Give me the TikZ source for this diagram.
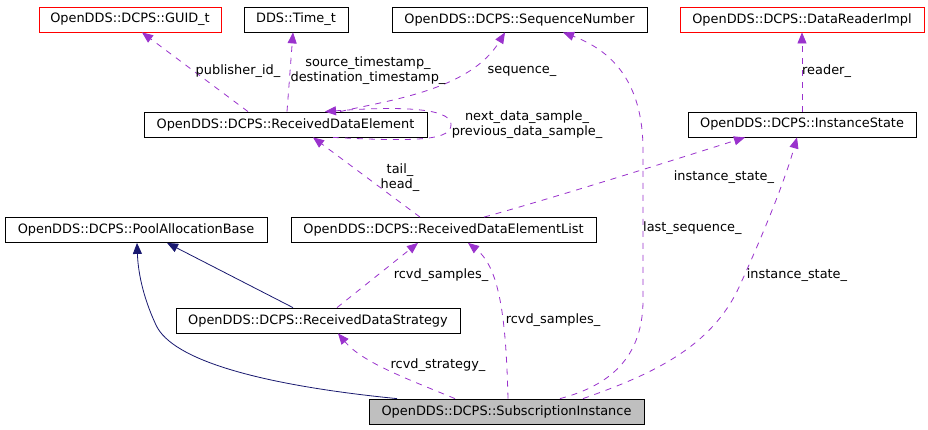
\documentclass[tikz,border=0pt]{standalone}
\usepackage{fontspec}
\setmainfont{DejaVu Sans}
\usetikzlibrary{arrows.meta,calc}
\definecolor{edgepurple}{HTML}{9A32CD}
\definecolor{inhblue}{HTML}{191970}
\definecolor{boxgray}{HTML}{BFBFBF}
\definecolor{boxred}{HTML}{FF0000}
\begin{document}
\begin{tikzpicture}[x=1bp,y=-1bp,
  font=\fontsize{12.9bp}{15bp}\selectfont,
  cls/.style={draw=black, line width=0.8bp, minimum height=25bp, inner sep=0pt},
  redcls/.style={cls, draw=boxred},
  curcls/.style={cls, fill=boxgray},
  dep/.style={draw=edgepurple, line width=0.8bp, dash pattern=on 6bp off 6bp,
    -{Triangle[length=11bp,width=9bp,fill=edgepurple]}},
  inh/.style={draw=inhblue, line width=0.8bp,
    -{Triangle[length=11bp,width=9bp,fill=inhblue]}},
  lbl/.style={inner sep=0pt, align=center, font=\fontsize{12.9bp}{15bp}\selectfont}]
\useasboundingbox (0,0) rectangle (928,429);
\fill[white] (0,0) rectangle (928,429);

% nodes
\node[redcls, minimum width=182bp] (guid) at (130,19.5) {OpenDDS::DCPS::GUID\_t};
\node[cls, minimum width=104bp] (time) at (296,19.5) {DDS::Time\_t};
\node[cls, minimum width=255bp] (seq) at (519.5,19.5) {OpenDDS::DCPS::SequenceNumber};
\node[redcls, minimum width=244bp] (dri) at (802,19.5) {OpenDDS::DCPS::DataReaderImpl};
\node[cls, minimum width=283bp] (rde) at (285.5,124.5) {OpenDDS::DCPS::ReceivedDataElement};
\node[cls, minimum width=228bp] (is) at (802,124.5) {OpenDDS::DCPS::InstanceState};
\node[cls, minimum width=262bp] (pab) at (136,230) {OpenDDS::DCPS::PoolAllocationBase};
\node[cls, minimum width=305bp] (rdel) at (443.5,230) {OpenDDS::DCPS::ReceivedDataElementList};
\node[cls, minimum width=284bp] (rds) at (318,320.5) {OpenDDS::DCPS::ReceivedDataStrategy};
\node[curcls, minimum width=275bp] (si) at (506.5,411.5) {OpenDDS::DCPS::SubscriptionInstance};

% edges
\draw[dep] ([xshift=-37.5bp]rde.north) -- ([xshift=12bp]guid.south);
\draw[dep] ([xshift=1.5bp]rde.north) -- ([xshift=-3bp]time.south);
\draw[dep] ([xshift=54.5bp]rde.north) .. controls (390,100) and (470,90) .. ([xshift=-14.5bp]seq.south);
\draw[dep] ([xshift=47.5bp]rde.south) .. controls (420,142) and (452,140) .. (451,124)
  .. controls (450,108) and (400,106) .. ([xshift=39.5bp]rde.north);
\draw[dep] ([xshift=-23.5bp]rdel.north) -- ([xshift=27.5bp]rde.south);
\draw[dep] ([xshift=40.5bp]rdel.north) .. controls (560,196) and (680,158) .. ([xshift=-57bp]is.south);
\draw[dep] (is.north) -- (dri.south);
\draw[inh] ([xshift=-109.5bp]si.north) .. controls (260,385) and (172,360) .. (156,325)
  .. controls (142,295) and (138,270) .. ([xshift=1bp]pab.south);
\draw[inh] ([xshift=-25bp]rds.north) -- ([xshift=31bp]pab.south);
\draw[dep] ([xshift=19bp]rds.north) -- ([xshift=-25.5bp]rdel.south);
\draw[dep] ([xshift=1.5bp]si.north) .. controls (506,320) and (500,268) .. ([xshift=24.5bp]rdel.south);
\draw[dep] ([xshift=-51.5bp]si.north) .. controls (405,378) and (362,362) .. ([xshift=20bp]rds.south);
\draw[dep] ([xshift=53.5bp]si.north) .. controls (600,388) and (643,365) .. (643,300)
  -- (643,150) .. controls (643,80) and (610,50) .. ([xshift=43.5bp]seq.south);
\draw[dep] ([xshift=76.5bp]si.north) .. controls (650,375) and (712,348) .. (740,285)
  .. controls (765,230) and (785,180) .. ([xshift=-5bp]is.south);

% labels
\node[lbl] (l1) at (238,71) {publisher\_id\_};
\node[lbl] (l2) at (368,71) {source\_timestamp\_\\destination\_timestamp\_};
\node[lbl] (l3) at (522,71) {sequence\_};
\node[lbl] (l4) at (527,124.5) {next\_data\_sample\_\\previous\_data\_sample\_};
\node[lbl, anchor=west] (l5) at (802,71) {reader\_};
\node[lbl] (l6) at (400,178) {tail\_\\head\_};
\node[lbl] (l7) at (724,177) {instance\_state\_};
\node[lbl] (l8) at (441,275) {rcvd\_samples\_};
\node[lbl] (l9) at (553,320) {rcvd\_samples\_};
\node[lbl] (l10) at (438,365) {rcvd\_strategy\_};
\node[lbl, anchor=west] (l11) at (643,228) {last\_sequence\_};
\node[lbl] (l12) at (797,275) {instance\_state\_};
\end{tikzpicture}
\end{document}
